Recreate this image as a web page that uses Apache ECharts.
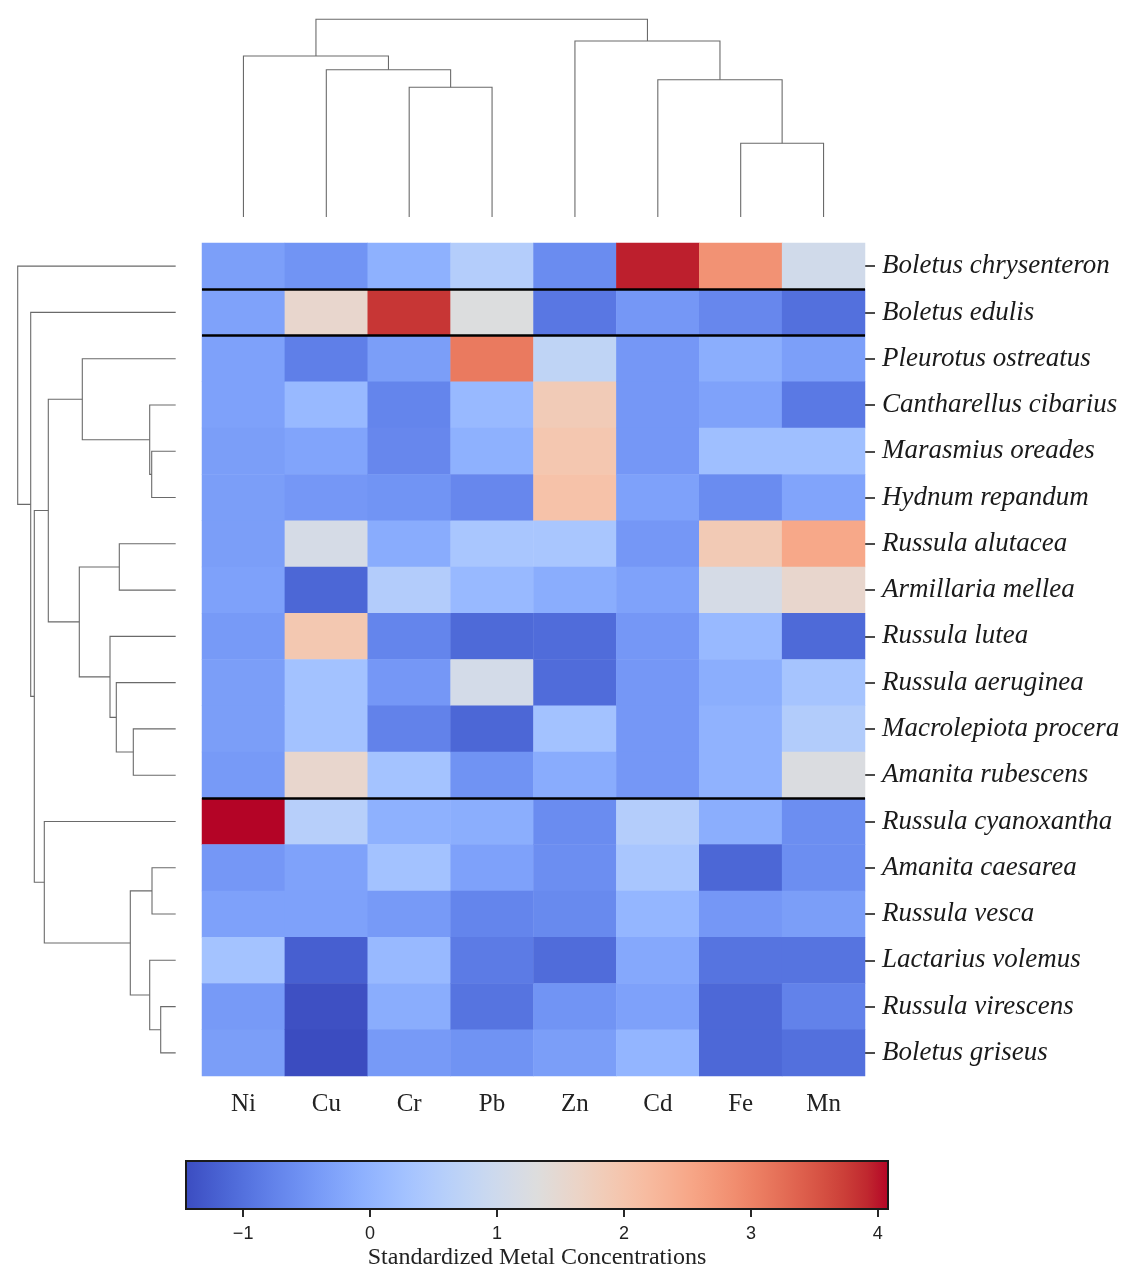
<!DOCTYPE html>
<html><head><meta charset="utf-8">
<script src="https://cdn.jsdelivr.net/npm/echarts@6/dist/echarts.min.js"></script>
<style>html,body{margin:0;padding:0;background:#fff}#c{width:1127px;height:1280px}</style>
</head><body><div id="c"></div>
<script>
// ---- data ----
const metals = ['Ni', 'Cu', 'Cr', 'Pb', 'Zn', 'Cd', 'Fe', 'Mn'];
const species = ['Boletus chrysenteron', 'Boletus edulis', 'Pleurotus ostreatus', 'Cantharellus cibarius',
  'Marasmius oreades', 'Hydnum repandum', 'Russula alutacea', 'Armillaria mellea', 'Russula lutea',
  'Russula aeruginea', 'Macrolepiota procera', 'Amanita rubescens', 'Russula cyanoxantha',
  'Amanita caesarea', 'Russula vesca', 'Lactarius volemus', 'Russula virescens', 'Boletus griseus'];
// standardized values per metal, in species order above
const niValues = [-0.34, -0.28, -0.30, -0.30, -0.35, -0.35, -0.35, -0.30, -0.42, -0.35, -0.35, -0.42, 4.08, -0.45, -0.30, 0.30, -0.42, -0.35];
const cuValues = [-0.50, 1.55, -0.80, 0.10, -0.25, -0.45, 1.15, -1.12, 1.93, 0.28, 0.28, 1.55, 0.60, -0.28, -0.30, -1.22, -1.40, -1.45];
const crValues = [-0.05, 3.80, -0.35, -0.72, -0.68, -0.50, -0.13, 0.53, -0.72, -0.45, -0.76, 0.30, -0.05, 0.28, -0.42, 0.10, -0.12, -0.42];
const pbValues = [0.55, 1.30, 3.10, 0.10, -0.05, -0.68, 0.38, 0.10, -1.08, 1.10, -1.12, -0.52, -0.10, -0.30, -0.72, -0.85, -0.95, -0.52];
const znValues = [-0.62, -0.90, 0.75, 1.85, 1.95, 2.05, 0.38, -0.12, -1.05, -1.05, 0.28, -0.13, -0.62, -0.58, -0.65, -1.05, -0.50, -0.35];
const cdValues = [3.95, -0.45, -0.45, -0.45, -0.45, -0.30, -0.45, -0.28, -0.45, -0.45, -0.45, -0.45, 0.55, 0.38, 0.05, -0.20, -0.30, 0.02];
const feValues = [2.80, -0.68, -0.10, -0.28, 0.22, -0.62, 1.88, 1.15, 0.10, -0.10, -0.02, -0.02, -0.10, -1.12, -0.45, -0.95, -1.10, -1.10];
const mnValues = [1.05, -1.00, -0.33, -0.88, 0.22, -0.25, 2.50, 1.55, -1.08, 0.33, 0.52, 1.25, -0.58, -0.58, -0.35, -0.95, -0.76, -1.00];
// linkage [childA, childB, height]; leaves are display indices, new nodes numbered from n
const colLinkage = [[2, 3, 129.7], [1, 8, 147.3], [0, 9, 161], [6, 7, 73.7], [5, 11, 137.3], [4, 12, 176], [10, 13, 197.7]];
const rowLinkage = [[4, 5, 24], [3, 18, 26], [2, 19, 93.4], [6, 7, 56.4], [10, 11, 42.4], [9, 22, 59.4],
  [8, 23, 65.7], [21, 24, 96.4], [20, 25, 127.4], [13, 14, 23.7], [16, 17, 15], [15, 28, 26],
  [27, 29, 45.4], [12, 30, 131.4], [26, 31, 141.4], [1, 32, 145], [0, 33, 158]];
const clusterBreaks = [1, 2, 12];
const colorbarTicks = [-1, 0, 1, 2, 3, 4];
const coolwarm = ['#3b4cc0', '#445acc', '#4d68d7', '#5775e1', '#6282ea', '#6c8ef1', '#779af7', '#82a5fb', '#8db0fe',
  '#98b9ff', '#a3c2ff', '#aec9fd', '#b8d0f9', '#c2d5f4', '#ccd9ee', '#d5dbe6', '#dddddd', '#e5d8d1', '#ecd3c5',
  '#f1ccb8', '#f5c4ac', '#f7bba0', '#f7b194', '#f7a687', '#f49a7b', '#f18d6f', '#ec7f63', '#e57058', '#de604d',
  '#d55042', '#cb3e38', '#c0282f', '#b40426'];

// ---- build ----
const columns = [niValues, cuValues, crValues, pbValues, znValues, cdValues, feValues, mnValues];
const heatData = [];
columns.forEach((col, ci) => col.forEach((v, ri) => heatData.push([ci, ri, v])));
const allVals = heatData.map(d => d[2]);
const vmin = Math.min(...allVals), vmax = Math.max(...allVals);

function dendro(linkage, n, horizontal) {
  const pos = [], hgt = [];
  for (let i = 0; i < n; i++) { pos[i] = i; hgt[i] = 0; }
  const segs = [];
  linkage.forEach(([a, b, h], k) => {
    let pts = [[pos[a], hgt[a]], [pos[a], h], [pos[b], h], [pos[b], hgt[b]]];
    if (horizontal) pts = pts.map(p => [p[1], p[0]]);
    segs.push({ coords: pts });
    pos[n + k] = (pos[a] + pos[b]) / 2; hgt[n + k] = h;
  });
  return segs;
}
const topSegs = dendro(colLinkage, metals.length, false);
const leftSegs = dendro(rowLinkage, species.length, true);
const sepLines = clusterBreaks.map(b => ({ coords: [[-0.5, b - 0.5], [metals.length - 0.5, b - 0.5]] }));

const stops = coolwarm.map((c, i) => ({ offset: i / (coolwarm.length - 1), color: c }));
const serif = 'Liberation Serif, Times New Roman, serif';
const dgColor = '#6a6a6a';

const chart = echarts.init(document.getElementById('c'), null, { renderer: 'canvas' });
chart.setOption({
  backgroundColor: '#fff',
  animation: false,
  grid: [
    { left: 202, top: 243, width: 663, height: 833 },
    { left: 202, top: 0, width: 663, height: 217 },
    { left: 0, top: 243, width: 175.7, height: 833 },
    { left: 186, top: 1161, width: 702, height: 48 },
    { left: 202, top: 243, width: 663, height: 833 }
  ],
  xAxis: [
    { type: 'category', gridIndex: 0, data: metals, position: 'bottom',
      axisLine: { show: false }, axisTick: { show: false }, splitLine: { show: false },
      axisLabel: { fontFamily: serif, fontSize: 25, color: '#222', margin: 16 } },
    { type: 'value', gridIndex: 1, min: -0.5, max: 7.5, show: false },
    { type: 'value', gridIndex: 2, min: 0, max: 175.7, inverse: true, show: false },
    { type: 'value', gridIndex: 3, min: vmin, max: vmax, splitLine: { show: false },
      axisLine: { show: false },
      axisTick: { show: true, customValues: colorbarTicks, length: 8, lineStyle: { color: '#111', width: 1.8 } },
      axisLabel: { customValues: colorbarTicks, fontFamily: 'Liberation Sans, Arial, sans-serif', fontSize: 18, color: '#222', margin: 16,
        formatter: v => (v < 0 ? '\u2212' + Math.abs(v) : String(v)) },
      name: 'Standardized Metal Concentrations', nameLocation: 'middle', nameGap: 37,
      nameTextStyle: { fontFamily: serif, fontSize: 24, color: '#222' } },
    { type: 'value', gridIndex: 4, min: -0.5, max: 7.5, show: false }
  ],
  yAxis: [
    { type: 'category', gridIndex: 0, data: species, inverse: true, position: 'right',
      axisLine: { show: false }, splitLine: { show: false },
      axisTick: { show: true, alignWithLabel: true, length: 10, lineStyle: { color: '#111', width: 1.5 } },
      axisLabel: { fontFamily: serif, fontStyle: 'italic', fontSize: 27, color: '#1a1a1a', margin: 17 } },
    { type: 'value', gridIndex: 1, min: 0, max: 217, show: false },
    { type: 'value', gridIndex: 2, min: -0.5, max: 17.5, inverse: true, show: false },
    { type: 'value', gridIndex: 3, min: 0, max: 1, show: false },
    { type: 'value', gridIndex: 4, min: -0.5, max: 17.5, inverse: true, show: false }
  ],
  visualMap: { type: 'continuous', min: vmin, max: vmax, seriesIndex: 0, show: false, inRange: { color: coolwarm } },
  series: [
    { type: 'heatmap', xAxisIndex: 0, yAxisIndex: 0, data: heatData, itemStyle: { borderWidth: 0 }, emphasis: { disabled: true } },
    { type: 'lines', coordinateSystem: 'cartesian2d', xAxisIndex: 1, yAxisIndex: 1, polyline: true, silent: true,
      data: topSegs, lineStyle: { color: dgColor, width: 1.1, opacity: 1 } },
    { type: 'lines', coordinateSystem: 'cartesian2d', xAxisIndex: 2, yAxisIndex: 2, polyline: true, silent: true,
      data: leftSegs, lineStyle: { color: dgColor, width: 1.1, opacity: 1 } },
    { type: 'custom', xAxisIndex: 3, yAxisIndex: 3, silent: true, data: [[vmin, vmax]],
      renderItem: (params, api) => {
        const p0 = api.coord([api.value(0), 1]);
        const p1 = api.coord([api.value(1), 0]);
        return { type: 'rect', shape: { x: p0[0], y: p0[1], width: p1[0] - p0[0], height: p1[1] - p0[1] },
          style: { fill: new echarts.graphic.LinearGradient(0, 0, 1, 0, stops), stroke: '#1a1a1a', lineWidth: 2 } };
      } },
    { type: 'lines', coordinateSystem: 'cartesian2d', xAxisIndex: 4, yAxisIndex: 4, silent: true, z: 10,
      data: sepLines, lineStyle: { color: '#000', width: 2.5, opacity: 1 } }
  ]
});
</script></body></html>
